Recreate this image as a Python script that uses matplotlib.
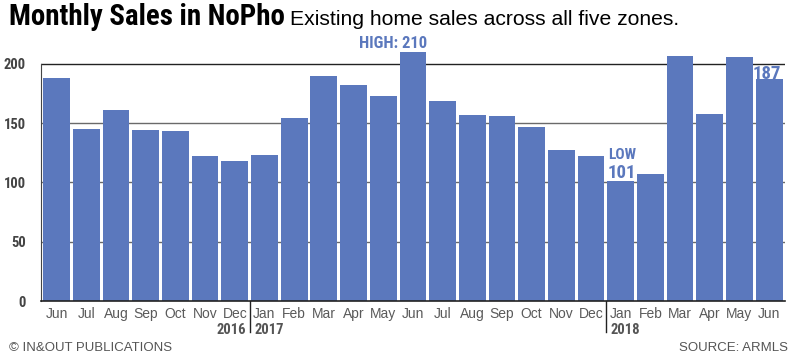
import matplotlib.pyplot as plt

months = ['Jun', 'Jul', 'Aug', 'Sep', 'Oct', 'Nov', 'Dec',
          'Jan', 'Feb', 'Mar', 'Apr', 'May', 'Jun', 'Jul', 'Aug', 'Sep', 'Oct', 'Nov', 'Dec',
          'Jan', 'Feb', 'Mar', 'Apr', 'May', 'Jun']
sales = [188, 145, 161, 144, 143, 122, 118,
         123, 154, 190, 182, 173, 210, 169, 157, 156, 147, 127, 122,
         101, 107, 207, 158, 206, 187]
years = ['2016', '2017', '2018']
year_start = [0, 7, 19]
yticks = [0, 50, 100, 150, 200]

narrow = 'Roboto Condensed'
plain = 'Liberation Sans'
blue = '#5b78bd'
grey = '#555555'

fig = plt.figure(figsize=(8, 3.62), dpi=100)
ax = fig.add_axes([0.0515, 0.1685, 0.930, 0.704])

x = list(range(len(sales)))
ax.bar(x, sales, width=0.9, color=blue, zorder=2)

ax.set_ylim(0, 215)
ax.set_xlim(-0.52, len(sales) - 0.46)
for v in yticks[1:-1]:
    ax.axhline(v, color='#6a6a6a', lw=1, zorder=1)
ax.axhline(200, color='#222222', lw=1, zorder=1)

for s in ['top', 'right']:
    ax.spines[s].set_visible(False)
ax.spines['left'].set_bounds(0, 200)
ax.spines['left'].set_color('#444444')
ax.spines['bottom'].set_color('#222222')
ax.spines['bottom'].set_linewidth(1.2)

ax.set_yticks(yticks)
ax.set_yticklabels([str(v) for v in yticks], fontfamily=narrow,
                   fontweight='bold', fontsize=10.5, color='#444444')
ax.tick_params(axis='y', length=0, pad=11)
ax.set_xticks(x)
ax.set_xticklabels(months, fontfamily=plain, fontsize=10, color='#5a5a5a')
ax.tick_params(axis='x', length=0, pad=4)

# year separators and labels
xt = ax.get_xaxis_transform()
for i in year_start[1:]:
    ax.plot([i - 0.5, i - 0.5], [0, -0.122], transform=xt,
            color='#222222', lw=1, clip_on=False)
ax.text(year_start[1] - 0.62, -0.086, years[0], transform=xt, ha='right', va='top',
        fontfamily=narrow, fontweight='bold', fontsize=10.5, color=grey)
ax.text(year_start[1] - 0.33, -0.086, years[1], transform=xt, ha='left', va='top',
        fontfamily=narrow, fontweight='bold', fontsize=10.5, color=grey)
ax.text(year_start[2] - 0.33, -0.086, years[2], transform=xt, ha='left', va='top',
        fontfamily=narrow, fontweight='bold', fontsize=10.5, color=grey)

# annotations
hi = sales.index(max(sales))
lo = sales.index(min(sales))
ax.text(hi + 0.47, max(sales) + 3.5, 'HIGH: ' + str(max(sales)), ha='right', va='baseline',
        fontfamily=narrow, fontweight='bold', fontsize=12, color=blue, clip_on=False)
ax.text(lo - 0.43, min(sales) + 19, 'LOW', ha='left', va='baseline',
        fontfamily=narrow, fontweight='bold', fontsize=11, color=blue)
ax.text(lo - 0.45, min(sales) + 3, str(min(sales)), ha='left', va='baseline',
        fontfamily=narrow, fontweight='bold', fontsize=13.5, color=blue)
ax.text(len(sales) - 1 + 0.4, sales[-1] + 0.5, str(sales[-1]), ha='right', va='baseline',
        fontfamily=narrow, fontweight='bold', fontsize=13.5, color=blue)

# title and footer
fig.text(0.011, 0.931, 'Monthly Sales in NoPho', ha='left', va='baseline',
         fontfamily=narrow, fontweight='bold', fontsize=20.8, color='black')
fig.text(0.363, 0.931, 'Existing home sales across all five zones.', ha='left', va='baseline',
         fontfamily=plain, fontsize=15.2, color='black')
fig.text(0.011, 0.039, '\u00a9 IN&OUT PUBLICATIONS', ha='left', va='center',
         fontfamily=plain, fontsize=9.5, color=grey)
fig.text(0.985, 0.039, 'SOURCE: ARMLS', ha='right', va='center',
         fontfamily=plain, fontsize=9.5, color=grey)

fig.savefig('out.png', dpi=100, facecolor='white')
